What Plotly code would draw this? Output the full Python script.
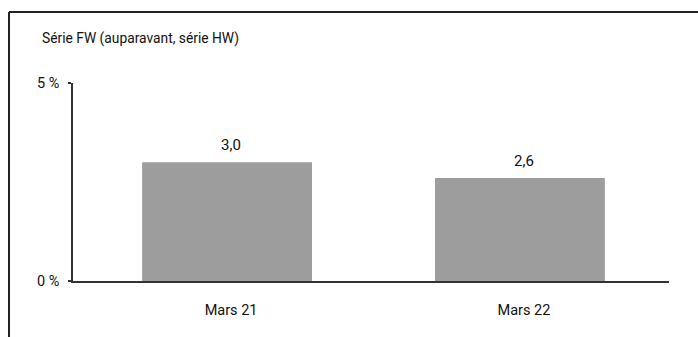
import plotly.graph_objects as go

# Data
categories = ["Mars 21", "Mars 22"]
values = [3.0, 2.6]
y_tick_vals = [0, 5]
y_tick_text = ["0 %", "5 %"]
title_text = "Série FW (auparavant, série HW)"

FONT = "Roboto, Liberation Sans, sans-serif"
FS = 14.5
TEXT = "#111111"
LINE = "#333333"
BAR = "#9d9d9d"

W, H = 698, 337
ML, MR, MT, MB = 73, 29, 83, 56
PW, PH = W - ML - MR, H - MT - MB


def px_x(px):
    """pixel x -> paper x"""
    return (px - ML) / PW


def px_y(py):
    """pixel y (from top) -> paper y"""
    return (H - MB - py) / PH


fig = go.Figure(
    go.Bar(
        x=categories,
        y=values,
        marker=dict(color=BAR, line=dict(width=0)),
        width=0.58,
        hoverinfo="skip",
    )
)

# value labels above bars
for c, v in zip(categories, values):
    fig.add_annotation(
        x=c, y=v, xref="x", yref="y",
        text=f"{v:.1f}".replace(".", ","),
        showarrow=False, yanchor="bottom", xanchor="center",
        xshift=4, yshift=6,
        font=dict(family=FONT, size=FS + 0.5, color=TEXT),
    )

# chart heading
fig.add_annotation(
    x=px_x(40), y=px_y(39), xref="paper", yref="paper",
    text=title_text, showarrow=False, xanchor="left", yanchor="middle",
    font=dict(family=FONT, size=13.8, color=TEXT),
)

# frame lines along top and left edges
frame = dict(color="#222222", width=2)
fig.add_shape(type="line", xref="paper", yref="paper",
              x0=px_x(9), y0=px_y(12), x1=px_x(710), y1=px_y(12), line=frame)
fig.add_shape(type="line", xref="paper", yref="paper",
              x0=px_x(9), y0=px_y(12), x1=px_x(9), y1=px_y(345), line=frame)

fig.update_layout(
    width=W, height=H,
    margin=dict(l=ML, r=MR, t=MT, b=MB, pad=0),
    paper_bgcolor="white", plot_bgcolor="white",
    showlegend=False,
    font=dict(family=FONT, size=FS, color=TEXT),
    xaxis=dict(
        type="category", range=[-0.526, 1.509],
        showline=True, linecolor=LINE, linewidth=1.5,
        showgrid=False, zeroline=False, ticks="",
        ticklabelstandoff=15, ticklabelshift=4,
        tickfont=dict(family=FONT, size=FS, color=TEXT),
        fixedrange=True,
    ),
    yaxis=dict(
        range=[0, 5], tickvals=y_tick_vals, ticktext=y_tick_text,
        showline=True, linecolor=LINE, linewidth=1.5,
        ticks="outside", ticklen=3, tickwidth=1.5, tickcolor=LINE,
        showgrid=False, zeroline=False,
        ticklabelstandoff=6,
        tickfont=dict(family=FONT, size=FS, color=TEXT),
        fixedrange=True,
    ),
)

fig.write_html("out.html", config={"displayModeBar": False})
